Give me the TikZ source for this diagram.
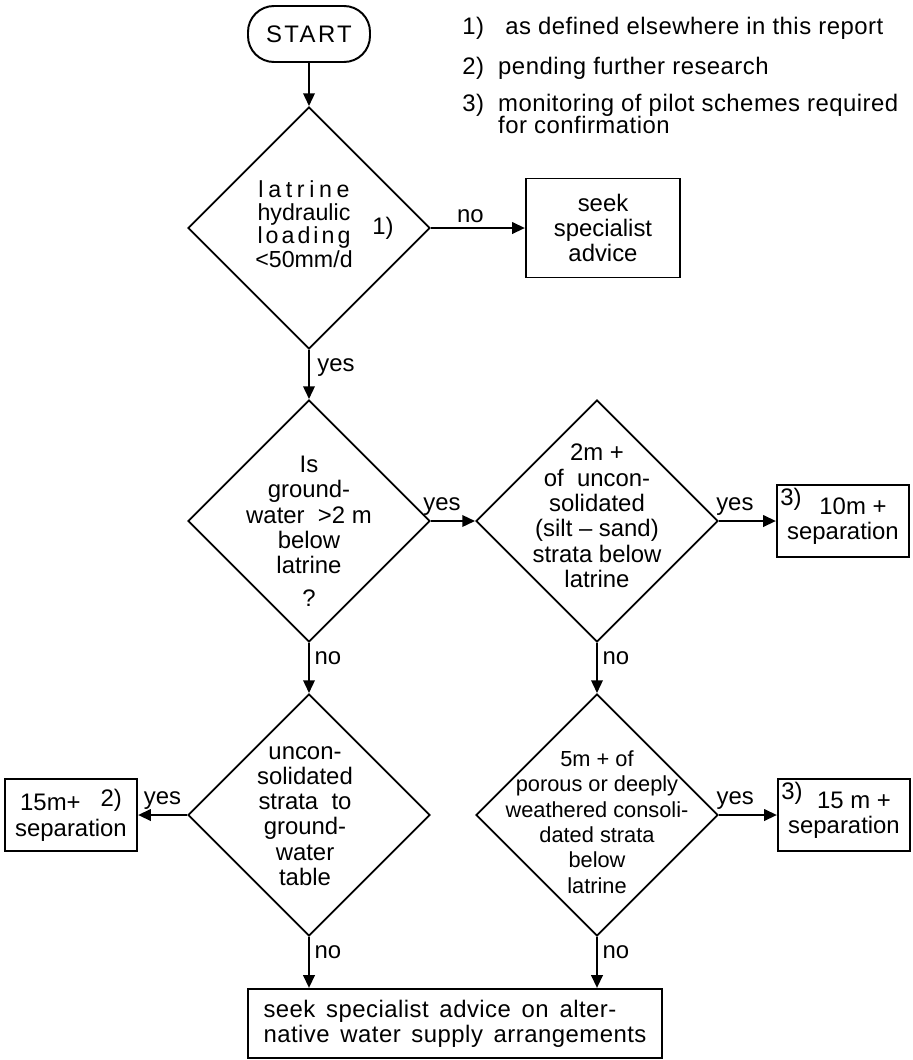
\documentclass[tikz,border=0pt]{standalone}
\usepackage{fontspec}
\setmainfont{Liberation Sans}
\usepackage{tikz}
\usetikzlibrary{arrows.meta,positioning,shapes.geometric}

\begin{document}
\begin{tikzpicture}[x=0.25mm, y=-0.25mm,
    every node/.style={font=\fontsize{17}{18}\selectfont, inner sep=0pt},
    decision/.style={draw, line width=1.2pt, diamond, aspect=1, minimum width=60.5mm, minimum height=60.5mm},
    stepbox/.style={draw, line width=1.4pt, rectangle, align=center},
    dtext/.style={align=center},
    flow/.style={-{Triangle[length=3.2mm,width=2.8mm]}, line width=1.9pt}]
  \useasboundingbox (0,0) rectangle (913,1060);

  % start and footnotes
  \node[stepbox, rounded corners=6.5mm, minimum width=30.5mm, minimum height=14mm] (start) at (309,34)
    {{\addfontfeatures{LetterSpace=10}START}};
  \node[anchor=west] (note1) at (462,28) {\addfontfeatures{LetterSpace=2}1)~~ as defined elsewhere in this report};
  \node[anchor=west] (note2) at (462,68) {\addfontfeatures{LetterSpace=2}2)~~pending further research};
  \node[anchor=west] (note3) at (462,105) {\addfontfeatures{LetterSpace=2}3)~~monitoring of pilot schemes required};
  \node[anchor=west] (note3b) at (462,127) {\addfontfeatures{LetterSpace=2}\phantom{3)~~}for confirmation};

  % hydraulic loading check
  \node[decision] (load) at (309,228) {};
  \node[dtext, font=\fontsize{16.5}{16.5}\selectfont] (loadtxt) at (304,224)
    {\addfontfeatures{LetterSpace=20}latrine\\hydraulic\\\addfontfeatures{LetterSpace=13}loading\\<50mm/d};
  \node (ref1) at (383,228) {1)};
  \node[stepbox, minimum width=38.5mm, minimum height=24.75mm] (advice) at (603,228) {seek\\specialist\\advice};
  \draw[flow] (start) -- (load);
  \draw[flow] (load) -- node[pos=0.42, above=3pt] (no1) {no} (advice);

  % second row
  \node[decision] (gw) at (309,521) {};
  \node[dtext] (gwtxt) at (309,531) {Is\\ground-\\water~ >2 m\\below\\latrine\\[5pt]?};
  \node[decision] (silt) at (597,521) {};
  \node[dtext] (silttxt) at (597,516) {2m +\\of~~uncon-\\solidated\\(silt -- sand)\\strata below\\latrine};
  \node[stepbox, minimum width=33mm, minimum height=18mm] (sep10) at (843,521) {\hspace*{5mm}10m +\\separation};
  \node[anchor=north west] (ref3a) at ([shift={(1mm,-1mm)}]sep10.north west) {3)};
  \draw[flow] (load) -- node[pos=0.35, right=5pt] (yes1) {yes} (gw);
  \draw[flow] (gw) -- node[pos=0.25, above=3pt] (yes2) {yes} (silt);
  \draw[flow] (silt) -- node[pos=0.28, above=3pt] (yes3) {yes} (sep10);

  % third row
  \node[decision] (uncon) at (309,815) {};
  \node[dtext] (uncontxt) at (305,816) {uncon-\\solidated\\strata~~to\\ground-\\water\\table};
  \node[stepbox, minimum width=33mm, minimum height=18mm] (sep15a) at (71,815)
    {15m+~~~\raisebox{1.2mm}{2)}\\separation};
  \node[decision] (porous) at (597,815) {};
  \node[dtext, font=\fontsize{15.5}{18}\selectfont] (poroustxt) at (597,822)
    {5m + of\\porous or deeply\\weathered consoli-\\dated strata\\below\\latrine};
  \node[stepbox, minimum width=33mm, minimum height=18mm] (sep15b) at (844,815) {\hspace*{5mm}15 m +\\separation};
  \node[anchor=north west] (ref3b) at ([shift={(1mm,-1mm)}]sep15b.north west) {3)};
  \draw[flow] (gw) -- node[pos=0.3, right=3pt] (no2) {no} (uncon);
  \draw[flow] (silt) -- node[pos=0.3, right=3pt] (no3) {no} (porous);
  \draw[flow] (uncon) -- node[pos=0.5, above=3pt] (yes4) {yes} (sep15a);
  \draw[flow] (porous) -- node[pos=0.28, above=3pt] (yes5) {yes} (sep15b);

  % final box
  \node[stepbox, align=left, minimum width=103.5mm, minimum height=17.25mm] (final) at (455,1023.5)
    {\addfontfeatures{LetterSpace=2}\spaceskip=0.45em seek specialist advice on alter-\\
     \addfontfeatures{LetterSpace=2}\spaceskip=0.45em native water supply arrangements};
  \draw[flow] (uncon) -- node[pos=0.3, right=3pt] (no4) {no} (uncon |- final.north);
  \draw[flow] (porous) -- node[pos=0.3, right=3pt] (no5) {no} (porous |- final.north);
\end{tikzpicture}
\end{document}
